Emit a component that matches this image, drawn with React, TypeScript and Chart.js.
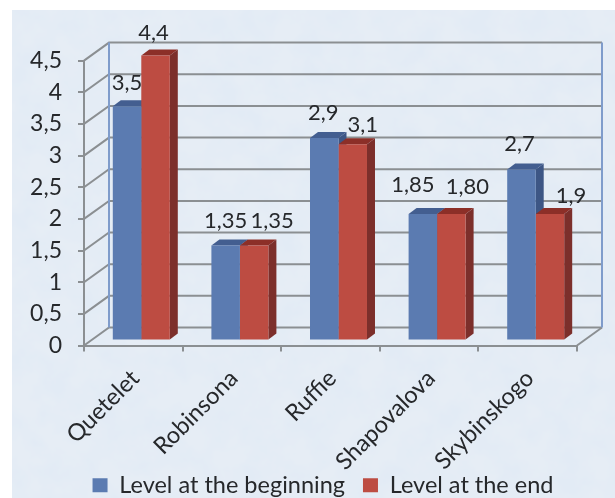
import React, { useEffect, useRef } from "react";
import { Chart, registerables } from "chart.js";

Chart.register(...registerables);

const categories = ["Quetelet", "Robinsona", "Ruffie", "Shapovalova", "Skybinskogo"];
const beginningValues = [3.7, 1.5, 3.2, 2.0, 2.7];
const endValues = [4.5, 1.5, 3.1, 2.0, 2.0];
const beginningLabels = ["3,5", "1,35", "2,9", "1,85", "2,7"];
const endLabels = ["4,4", "1,35", "3,1", "1,80", "1,9"];
const yTickLabels: Record<string, string> = {
  "0": "0", "0.5": "0,5", "1": "1", "1.5": "1,5", "2": "2",
  "2.5": "2,5", "3": "3", "3.5": "3,5", "4": "4", "4.5": "4,5",
};

const FONT = "Lato";
const WALL_DX = 25;
const WALL_DY = -18;
const BAR_SHIFT_X = 8;
const BAR_SHIFT_Y = -5;
const BAR_DX = 8;
const BAR_DY = -6;
const BLUE = ["#5b7bb1", "#3d5685", "#435e90"];
const RED = ["#bd4c42", "#7c2f2b", "#8c2f28"];
const GREY = "#8b8f92";
const WALL_BLUE = "#7f9ccb";
// label nudges relative to each bar's centre / top, in px
const beginningNudge = [[0, -23], [0, -25], [-1, -25], [-10, -29], [-2, -26]];
const endNudge = [[-2, -23], [18, -25], [10, -19], [16, -27], [21, -18]];

const walls3d = {
  id: "walls3d",
  afterLayout(chart: any) {
    // let the tick labels reach beyond their fitted boxes without being clipped
    chart.scales.y.left = 0;
    chart.scales.x.bottom = chart.height;
    // the legend sits lower than its fitted box
    chart.legend.top += 9;
    chart.legend.bottom += 9;
  },
  beforeDatasetsDraw(chart: any) {
    const { ctx, scales, chartArea } = chart;
    const { left, right, top, bottom } = chartArea;
    ctx.save();
    ctx.lineWidth = 2;
    ctx.strokeStyle = GREY;
    scales.y.ticks.forEach((t: any) => {
      const y = scales.y.getPixelForValue(t.value);
      ctx.beginPath();
      ctx.moveTo(left, y);
      ctx.lineTo(left + WALL_DX, y + WALL_DY);
      ctx.lineTo(right + WALL_DX, y + WALL_DY);
      ctx.stroke();
    });
    ctx.beginPath();
    ctx.moveTo(right, bottom);
    ctx.lineTo(right + WALL_DX, bottom + WALL_DY);
    ctx.stroke();
    ctx.strokeStyle = WALL_BLUE;
    ctx.beginPath();
    ctx.moveTo(left + WALL_DX, top + WALL_DY);
    ctx.lineTo(left + WALL_DX, bottom + WALL_DY);
    ctx.moveTo(right + WALL_DX, top + WALL_DY);
    ctx.lineTo(right + WALL_DX, bottom + WALL_DY);
    ctx.stroke();
    ctx.restore();

    ctx.save();
    ctx.translate(BAR_SHIFT_X, BAR_SHIFT_Y);
    [BLUE, RED].forEach((colours, di) => {
      chart.getDatasetMeta(di).data.forEach((bar: any) => {
        const l = bar.x - bar.width / 2;
        const r = bar.x + bar.width / 2;
        ctx.fillStyle = colours[2];
        ctx.beginPath();
        ctx.moveTo(l, bar.y);
        ctx.lineTo(l + BAR_DX, bar.y + BAR_DY);
        ctx.lineTo(r + BAR_DX, bar.y + BAR_DY);
        ctx.lineTo(r, bar.y);
        ctx.fill();
        ctx.fillStyle = colours[1];
        ctx.beginPath();
        ctx.moveTo(r, bar.y);
        ctx.lineTo(r + BAR_DX, bar.y + BAR_DY);
        ctx.lineTo(r + BAR_DX, bar.base + BAR_DY);
        ctx.lineTo(r, bar.base);
        ctx.fill();
      });
    });
    // the fronts below share the same shift
  },
  afterDatasetsDraw(chart: any) {
    const { ctx } = chart;
    ctx.restore();
    ctx.save();
    ctx.font = `22px ${FONT}`;
    ctx.fillStyle = "#26282b";
    ctx.textAlign = "center";
    ctx.textBaseline = "middle";
    [[beginningLabels, beginningNudge], [endLabels, endNudge]].forEach(([labels, nudge]: any, di) => {
      chart.getDatasetMeta(di).data.forEach((bar: any, i: number) => {
        ctx.fillText(
          labels[i],
          bar.x + BAR_SHIFT_X + nudge[i][0],
          bar.y + BAR_SHIFT_Y + nudge[i][1],
        );
      });
    });
    ctx.restore();
  },
};

export default function App() {
  const ref = useRef<HTMLCanvasElement>(null);
  useEffect(() => {
    document.body.style.margin = "0";
    const chart = new Chart(ref.current!, {
      type: "bar",
      data: {
        labels: categories,
        datasets: [
          { label: "Level at the beginning", data: beginningValues, backgroundColor: BLUE[0], clip: false as any },
          { label: "Level at the end", data: endValues, backgroundColor: RED[0], clip: false as any },
        ],
      },
      plugins: [walls3d],
      options: {
        responsive: false,
        animation: false,
        devicePixelRatio: 1,
        layout: { padding: { left: 69, right: 38, top: 60.6, bottom: 0 } },
        datasets: { bar: { barPercentage: 1, categoryPercentage: 0.578 } },
        scales: {
          x: {
            offset: true,
            grid: { drawOnChartArea: false, color: GREY, lineWidth: 2, tickLength: 6, offset: true },
            border: { color: GREY, width: 2 },
            ticks: {
              font: { family: FONT, size: 23.5 },
              color: "#26282b",
              minRotation: 45,
              maxRotation: 45,
              padding: 13,
              labelOffset: 2,
              autoSkip: false,
            },
            afterFit(scale: any) { scale.height = 101; },
          },
          y: {
            min: 0,
            max: 4.5,
            grid: { drawOnChartArea: false, color: GREY, lineWidth: 2, tickLength: 6 },
            border: { color: GREY, width: 2 },
            ticks: {
              stepSize: 0.5,
              font: { family: FONT, size: 23 },
              color: "#26282b",
              padding: 16,
              callback: (v: any) => yTickLabels[String(v)],
            },
            afterFit(scale: any) { scale.width = 15; },
          },
        },
        plugins: {
          tooltip: { enabled: false },
          legend: {
            position: "bottom",
            labels: {
              font: { family: FONT, size: 23.5 },
              color: "#26282b",
              boxWidth: 15,
              boxHeight: 14,
              padding: 18,
            },
          },
        },
      },
    });
    return () => chart.destroy();
  }, []);

  const noise =
    "url(\"data:image/svg+xml;utf8," +
    "<svg xmlns='http://www.w3.org/2000/svg' width='603' height='488'>" +
    "<filter id='n'><feTurbulence type='fractalNoise' baseFrequency='0.035' numOctaves='4' seed='7'/>" +
    "<feColorMatrix values='0 0 0 0 0.76  0 0 0 0 0.83  0 0 0 0 0.91  2.2 0 0 0 -0.7'/></filter>" +
    "<rect width='603' height='488' filter='url(%23n)'/></svg>\")";

  return (
    <div style={{ position: "relative", width: 615, height: 498, background: "#fff", overflow: "hidden" }}>
      <div
        style={{
          position: "absolute", left: 12, top: 10, width: 603, height: 488,
          backgroundColor: "#e6edf5", backgroundImage: noise,
        }}
      />
      <canvas
        ref={ref}
        width={615}
        height={498}
        style={{ position: "absolute", left: 0, top: 0, filter: "blur(0.4px)" }}
      />
    </div>
  );
}
